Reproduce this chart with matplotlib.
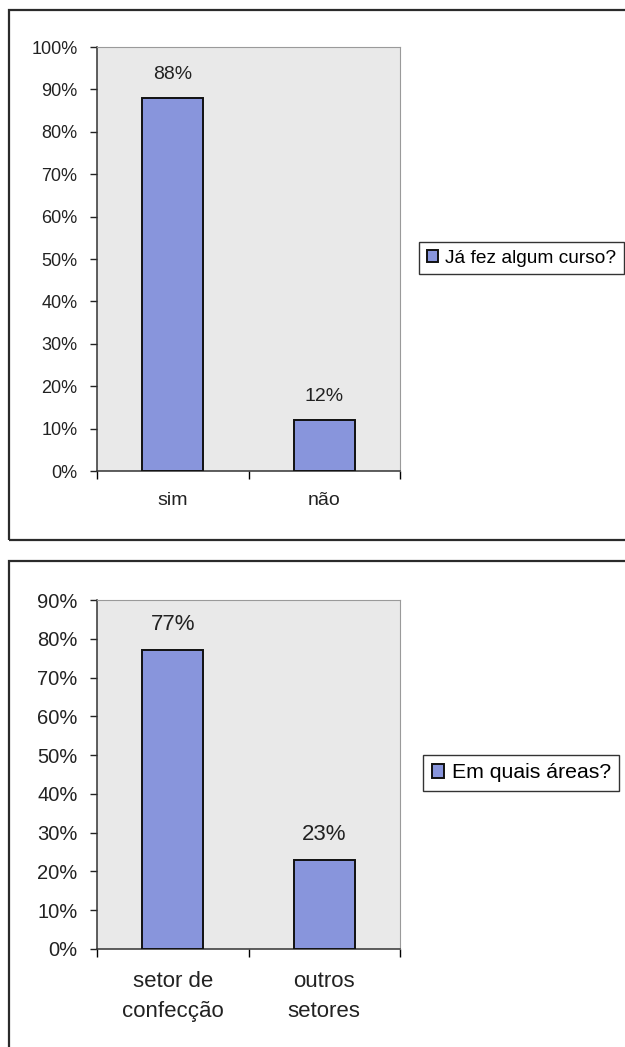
import matplotlib.pyplot as plt
from matplotlib.patches import Rectangle
from matplotlib.ticker import MultipleLocator, FuncFormatter

plt.rcParams['font.family'] = ['Liberation Sans', 'DejaVu Sans']

# dados dos dois gráficos
categorias1 = ['sim', 'não']
valores1 = [88, 12]
legenda1 = 'Já fez algum curso?'

categorias2 = ['setor de\nconfecção', 'outros\nsetores']
valores2 = [77, 23]
legenda2 = 'Em quais áreas?'

cor_barra = '#8895dc'
cor_fundo = '#e9e9e9'

W, H = 625, 1047
fig = plt.figure(figsize=(W / 100, H / 100), dpi=100)


def px(x, y, w, h):
    # converte retângulo em pixels (origem no topo) para fração da figura
    return [x / W, 1 - (y + h) / H, w / W, h / H]


def moldura(x, y, w, h):
    r = Rectangle((x / W, 1 - (y + h) / H), w / W, h / H, transform=fig.transFigure,
                  fill=False, edgecolor='#2b2b2b', linewidth=1.6, clip_on=False)
    fig.patches.append(r)


def grafico(pos, cats, vals, ymax, legenda, leg_xy, fs_tick, fs_txt, fs_leg,
            linesp, pad_x):
    ax = fig.add_axes(pos)
    ax.set_facecolor(cor_fundo)
    x = range(len(cats))
    ax.bar(x, vals, width=0.4, color=cor_barra, edgecolor='#111111', linewidth=1.4,
           label=legenda, zorder=3)
    for xi, v in zip(x, vals):
        ax.annotate(f'{v}%', (xi, v), xytext=(0, 11), textcoords='offset points',
                    ha='center', va='bottom', fontsize=fs_txt, color='#222222')
    ax.set_xlim(-0.5, len(cats) - 0.5)
    ax.set_ylim(0, ymax)
    ax.yaxis.set_major_locator(MultipleLocator(10))
    ax.yaxis.set_major_formatter(FuncFormatter(lambda v, p: f'{v:.0f}%'))
    ax.tick_params(axis='y', direction='out', length=5, width=1, pad=9,
                   labelsize=fs_tick, colors='#222222')
    # marcas do eixo x nas divisões entre categorias
    ax.set_xticks([-0.5, 0.5, 1.5])
    ax.set_xticklabels([])
    ax.set_xticks(list(x), minor=True)
    ax.set_xticklabels(cats, minor=True, fontsize=fs_txt, color='#222222',
                       linespacing=linesp)
    ax.tick_params(axis='x', which='major', direction='out', length=6, width=1)
    ax.tick_params(axis='x', which='minor', length=0, pad=pad_x)
    for s in ['top', 'right']:
        ax.spines[s].set_color('#9a9a9a')
        ax.spines[s].set_linewidth(0.8)
    for s in ['left', 'bottom']:
        ax.spines[s].set_color('#333333')
        ax.spines[s].set_linewidth(1.1)
    leg = ax.legend(loc='upper left', bbox_to_anchor=(leg_xy[0] / W, 1 - leg_xy[1] / H),
                    bbox_transform=fig.transFigure, borderaxespad=0, fancybox=False,
                    framealpha=1, edgecolor='#333333', handlelength=0.6,
                    handleheight=0.6, handletextpad=0.35, borderpad=0.4,
                    fontsize=fs_leg)
    leg.get_frame().set_linewidth(1.0)
    return ax


moldura(9, 10, 640, 530)
moldura(9, 561, 640, 520)

grafico(px(97, 47, 303, 424), categorias1, valores1, 100, legenda1, (419, 242),
        13, 14, 13.8, 1.2, 15)
grafico(px(97, 600, 303, 349), categorias2, valores2, 90, legenda2, (423, 755),
        14.5, 16, 15.3, 1.55, 16)

fig.savefig('out.png', dpi=100)
